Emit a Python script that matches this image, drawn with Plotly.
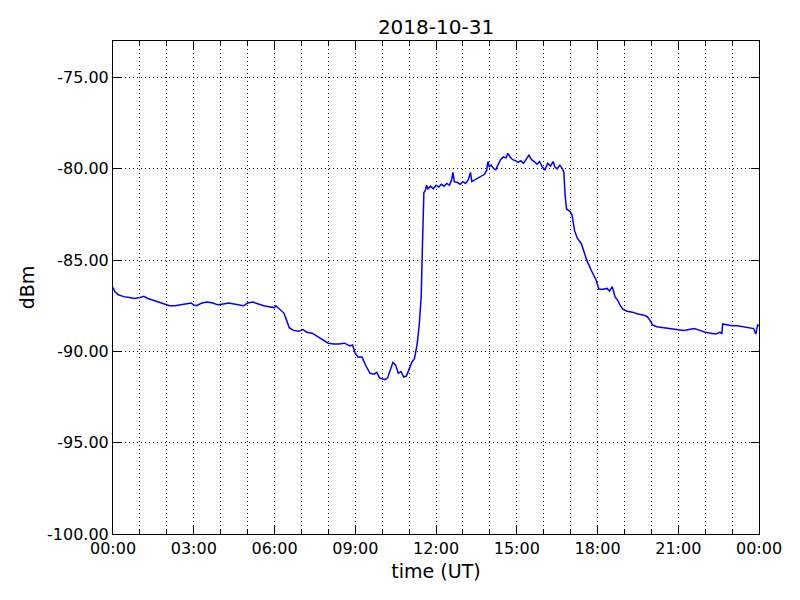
import datetime as dt
import plotly.graph_objects as go

title_text = "2018-10-31"
x_label = "time (UT)"
y_label = "dBm"

hours = [
    0.00, 0.08, 0.2, 0.4, 0.6, 0.8, 1.0, 1.15, 1.3, 1.5, 1.7, 1.9, 2.1, 2.3, 2.5, 2.7, 2.9, 3.0, 3.1,
    3.3, 3.5, 3.7, 3.9, 4.1, 4.3, 4.5, 4.7, 4.85, 5.0, 5.2, 5.4, 5.6, 5.8, 6.0, 6.05, 6.2, 6.35,
    6.45, 6.55, 6.7, 6.9, 7.05, 7.2, 7.4, 7.6, 7.8, 8.0, 8.2, 8.4, 8.6, 8.8, 8.9, 9.0, 9.1, 9.25,
    9.4, 9.55, 9.7, 9.8, 9.9, 10.0, 10.1, 10.2, 10.3, 10.4, 10.5, 10.6, 10.7, 10.8, 10.9, 11.0,
    11.1, 11.2, 11.3, 11.38, 11.45, 11.5, 11.55, 11.6, 11.65, 11.7, 11.8, 11.9, 12.0, 12.1, 12.2,
    12.3, 12.4, 12.5, 12.58, 12.63, 12.68, 12.8, 12.9, 13.0, 13.1, 13.2, 13.28, 13.33, 13.45, 13.6,
    13.7, 13.8, 13.88, 13.93, 13.98, 14.05, 14.15, 14.22, 14.3, 14.4, 14.5, 14.6, 14.67, 14.75,
    14.85, 14.95, 15.05, 15.15, 15.25, 15.35, 15.45, 15.55, 15.65, 15.75, 15.85, 15.95, 16.05,
    16.15, 16.25, 16.35, 16.42, 16.5, 16.6, 16.7, 16.75, 16.8, 16.85, 16.95, 17.05, 17.15, 17.25,
    17.4, 17.5, 17.6, 17.75, 17.85, 17.95, 18.05, 18.2, 18.35, 18.45, 18.55, 18.65, 18.75, 18.85,
    18.95, 19.1, 19.3, 19.5, 19.7, 19.85, 19.95, 20.05, 20.2, 20.5, 20.8, 21.0, 21.2, 21.4, 21.6,
    21.8, 22.0, 22.2, 22.4, 22.55, 22.62, 22.65, 22.8, 23.0, 23.2, 23.4, 23.6, 23.8, 23.88, 23.95,
    24.0,
]

dbm = [
    -86.5, -86.75, -86.9, -87.0, -87.05, -87.1, -87.05, -86.98, -87.1, -87.2, -87.3, -87.4, -87.5,
    -87.5, -87.45, -87.4, -87.35, -87.45, -87.5, -87.35, -87.3, -87.35, -87.45, -87.4, -87.35,
    -87.4, -87.45, -87.5, -87.35, -87.3, -87.4, -87.5, -87.55, -87.6, -87.5, -87.7, -87.9, -88.3,
    -88.7, -88.85, -88.9, -88.8, -88.95, -89.0, -89.2, -89.4, -89.55, -89.6, -89.6, -89.55, -89.7,
    -89.65, -90.1, -90.3, -90.3, -90.8, -91.2, -91.25, -91.15, -91.45, -91.5, -91.55, -91.45,
    -91.0, -90.6, -90.75, -91.2, -91.1, -91.4, -91.35, -91.0, -90.6, -90.4, -89.6, -88.5, -87.0,
    -84.0, -81.3, -81.2, -80.9, -81.1, -80.95, -81.1, -80.9, -81.0, -80.85, -80.95, -80.8, -80.9,
    -80.6, -80.2, -80.7, -80.75, -80.85, -80.7, -80.8, -80.6, -80.2, -80.7, -80.6, -80.5, -80.4,
    -80.3, -80.1, -79.6, -79.9, -79.8, -80.0, -80.05, -79.8, -79.5, -79.35, -79.4, -79.15, -79.35,
    -79.5, -79.55, -79.65, -79.55, -79.7, -79.45, -79.25, -79.5, -79.6, -79.75, -79.6, -79.9,
    -80.05, -79.7, -79.85, -79.6, -79.9, -80.0, -79.8, -80.0, -80.2, -81.5, -82.2, -82.3, -82.5,
    -83.4, -83.8, -84.1, -84.6, -85.0, -85.5, -85.8, -86.1, -86.6, -86.6, -86.55, -86.7, -86.45,
    -87.0, -87.2, -87.5, -87.7, -87.8, -87.85, -87.95, -88.0, -88.1, -88.3, -88.55, -88.65, -88.7,
    -88.75, -88.8, -88.85, -88.8, -88.75, -88.85, -88.95, -89.0, -89.05, -88.95, -89.05, -88.5,
    -88.55, -88.6, -88.6, -88.65, -88.7, -88.75, -89.05, -88.55, -88.6,
]

y_ticks = [-100, -95, -90, -85, -80, -75]
y_range = [-100, -73]

start = dt.datetime(2018, 10, 31)
times = [start + dt.timedelta(hours=h) for h in hours]

fig = go.Figure()
fig.add_trace(go.Scatter(x=times, y=dbm, mode="lines",
                         line=dict(color="#0000ff", width=1.5), showlegend=False))

font = dict(family="DejaVu Sans", size=16, color="black")
grid = dict(showgrid=True, gridcolor="black", gridwidth=1, griddash="1px,3px")

# page body has an 8px margin, so the figure is shifted; compensate in margins
fig.update_layout(
    width=800, height=600,
    margin=dict(l=105, r=49, t=33, b=74),
    paper_bgcolor="white", plot_bgcolor="white",
    font=font,
    title=dict(text=title_text, x=0.5, xref="paper", y=1 - 19 / 600, yref="container",
               yanchor="middle", xanchor="center", font=dict(size=20)),
)

fig.update_xaxes(
    type="date",
    range=[start, start + dt.timedelta(hours=24)],
    dtick=3 * 3600000, tick0=start, tickformat="%H:%M",
    ticks="inside", ticklen=8, tickcolor="black",
    showline=True, linecolor="black", linewidth=1, mirror="allticks",
    zeroline=False,
    title=dict(text=x_label, standoff=7),
    minor=dict(dtick=3600000, ticks="inside", ticklen=4, tickcolor="black",
               showgrid=True, gridcolor="black", gridwidth=1, griddash="1px,3px"),
    **grid,
)

fig.update_yaxes(
    range=y_range, tickvals=y_ticks, ticktext=[f"{v:.2f}" for v in y_ticks],
    ticks="inside", ticklen=8, tickcolor="black",
    showline=True, linecolor="black", linewidth=1, mirror="allticks",
    zeroline=False,
    title=dict(text=y_label, standoff=7),
    **grid,
)

fig.write_html("out.html")
